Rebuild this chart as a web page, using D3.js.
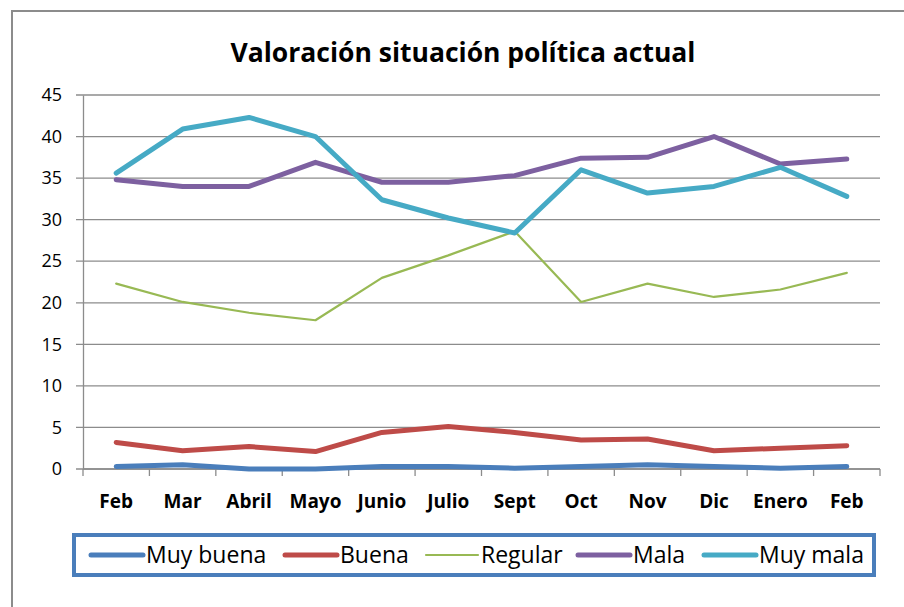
<!DOCTYPE html>
<html>
<head>
<meta charset="utf-8">
<script src="https://cdn.jsdelivr.net/npm/d3@7"></script>
<style>
  body { margin: 0; background: #fff; }
  svg { display: block; font-family: "Open Sans", Lato, sans-serif; }
</style>
</head>
<body>
<svg id="chart" width="904" height="607"></svg>
<script>
// chart data
const months = ["Feb", "Mar", "Abril", "Mayo", "Junio", "Julio", "Sept", "Oct", "Nov", "Dic", "Enero", "Feb"];
const muyBuena = [0.3, 0.5, 0.0, 0.0, 0.3, 0.3, 0.1, 0.3, 0.5, 0.3, 0.1, 0.3];
const buena    = [3.2, 2.2, 2.7, 2.1, 4.4, 5.1, 4.4, 3.5, 3.6, 2.2, 2.5, 2.8];
const regular  = [22.3, 20.1, 18.8, 17.9, 23.0, 25.7, 28.6, 20.1, 22.3, 20.7, 21.6, 23.6];
const mala     = [34.8, 34.0, 34.0, 36.9, 34.5, 34.5, 35.3, 37.4, 37.5, 40.0, 36.7, 37.3];
const muyMala  = [35.6, 40.9, 42.3, 40.0, 32.4, 30.2, 28.4, 36.0, 33.2, 34.0, 36.3, 32.8];
const yTicks = [0, 5, 10, 15, 20, 25, 30, 35, 40, 45];

const series = [
  { name: "Muy buena", values: muyBuena, color: "#4a7ebb", width: 5 },
  { name: "Buena", values: buena, color: "#be4b48", width: 5 },
  { name: "Regular", values: regular, color: "#98b954", width: 2.2 },
  { name: "Mala", values: mala, color: "#7d60a0", width: 5 },
  { name: "Muy mala", values: muyMala, color: "#46aac5", width: 5 }
];

const svg = d3.select("#chart");
const plotLeft = 83, plotRight = 880, plotTop = 95, plotBottom = 469;

// outer chart frame
svg.append("rect")
  .attr("x", 12).attr("y", 11).attr("width", 910).attr("height", 620)
  .attr("fill", "none").attr("stroke", "#8c8c8c").attr("stroke-width", 2);

svg.append("text")
  .attr("x", 463).attr("y", 62)
  .attr("text-anchor", "middle")
  .attr("font-size", 26.5).attr("font-weight", "bold")
  .attr("fill", "#000")
  .text("Valoración situación política actual");

const x = d3.scaleBand().domain(d3.range(months.length)).range([plotLeft, plotRight]);
const y = d3.scaleLinear().domain([0, 45]).range([plotBottom, plotTop]);

// gridlines
svg.append("g")
  .selectAll("line")
  .data(yTicks)
  .join("line")
  .attr("x1", plotLeft - 7).attr("x2", plotRight)
  .attr("y1", d => y(d)).attr("y2", d => y(d))
  .attr("stroke", "#8c8c8c").attr("stroke-width", 1.3);

// y axis
const yAxis = svg.append("g")
  .attr("transform", `translate(${plotLeft},0)`)
  .call(d3.axisLeft(y).tickValues(yTicks).tickSize(0).tickPadding(21));
yAxis.select(".domain").attr("stroke", "#8c8c8c").attr("stroke-width", 1.3);
yAxis.selectAll("text").attr("font-size", 18).attr("fill", "#000")
  .attr("font-family", "'Open Sans', Lato, sans-serif");

// x axis
const xEdges = d3.range(months.length + 1).map(i => plotLeft + i * x.bandwidth());
const xAxis = svg.append("g");
xAxis.append("line")
  .attr("x1", plotLeft).attr("x2", plotRight).attr("y1", plotBottom).attr("y2", plotBottom)
  .attr("stroke", "#8c8c8c").attr("stroke-width", 1.3);
xAxis.selectAll("line.tick")
  .data(xEdges)
  .join("line")
  .attr("class", "tick")
  .attr("x1", d => d).attr("x2", d => d)
  .attr("y1", plotBottom).attr("y2", plotBottom + 7)
  .attr("stroke", "#8c8c8c").attr("stroke-width", 1.3);
xAxis.selectAll("text")
  .data(months)
  .join("text")
  .attr("x", (d, i) => x(i) + x.bandwidth() / 2)
  .attr("y", 508)
  .attr("text-anchor", "middle")
  .attr("font-size", 19).attr("font-weight", "bold").attr("fill", "#000")
  .text(d => d);

// lines
const line = d3.line()
  .x((d, i) => x(i) + x.bandwidth() / 2)
  .y(d => y(d));

svg.append("g")
  .selectAll("path")
  .data(series)
  .join("path")
  .attr("d", d => line(d.values))
  .attr("fill", "none")
  .attr("stroke", d => d.color)
  .attr("stroke-width", d => d.width)
  .attr("stroke-linejoin", "round")
  .attr("stroke-linecap", "round");

// legend
svg.append("rect")
  .attr("x", 74).attr("y", 535).attr("width", 800).attr("height", 40)
  .attr("fill", "#fff").attr("stroke", "#4a7ebb").attr("stroke-width", 4);

const legendX = [90, 284, 425, 577, 703];
const lg = svg.append("g").selectAll("g")
  .data(series)
  .join("g")
  .attr("transform", (d, i) => `translate(${legendX[i]},555)`);
lg.append("line")
  .attr("x1", 1).attr("x2", 53)
  .attr("stroke", d => d.color)
  .attr("stroke-width", d => d.width)
  .attr("stroke-linecap", "round");
lg.append("text")
  .attr("x", 56).attr("y", 8)
  .attr("font-size", 23).attr("fill", "#000")
  .text(d => d.name);
</script>
</body>
</html>
